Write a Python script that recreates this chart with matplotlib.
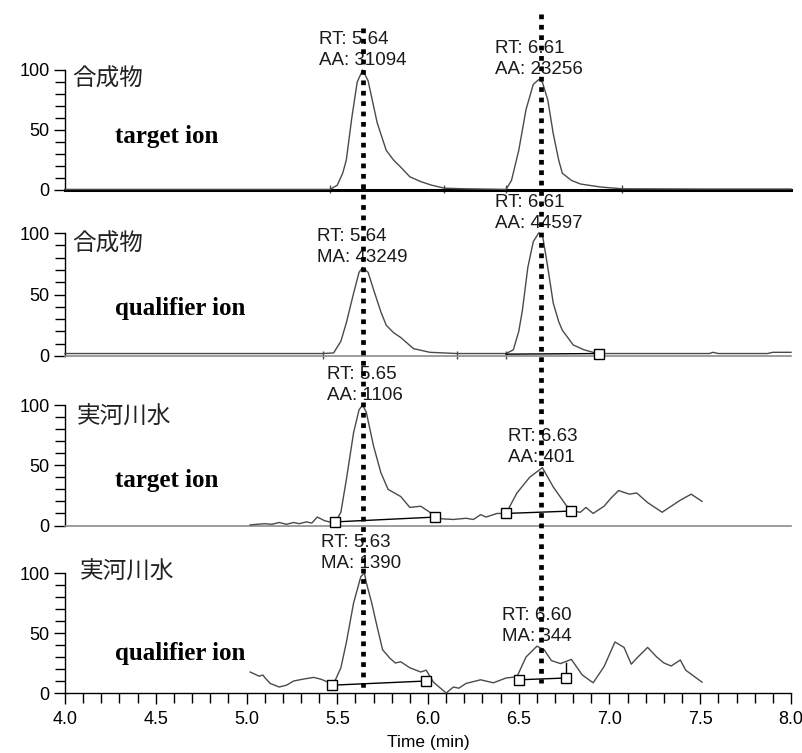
import matplotlib
matplotlib.use('Agg')
import matplotlib.pyplot as plt
from matplotlib.ticker import MultipleLocator, FormatStrFormatter

plt.rcParams['font.family'] = ['Liberation Sans', 'DejaVu Sans']

# ---- chromatogram traces (time in min, relative abundance %) ----
time_p1 = [4.0, 5.0, 5.46, 5.50, 5.53, 5.55, 5.58, 5.61, 5.64, 5.67, 5.70, 5.72, 5.77, 5.81,
           5.85, 5.90, 5.96, 6.02, 6.09, 6.20, 6.43, 6.46, 6.50, 6.54, 6.58, 6.61, 6.63,
           6.66, 6.69, 6.72, 6.74, 6.79, 6.84, 6.95, 7.07, 7.5, 8.0]
int_p1 = [0.5, 0.5, 0.5, 4, 14, 25, 60, 90, 100, 91, 70, 56, 33, 25,
          19, 11, 7, 4, 1.5, 1, 0.5, 8, 33, 67, 88, 92, 90,
          75, 47, 25, 14, 8, 5, 2.5, 1, 0.8, 0.8]

time_p2 = [4.0, 5.42, 5.48, 5.52, 5.55, 5.59, 5.62, 5.64, 5.67, 5.70, 5.74, 5.77, 5.81,
           5.85, 5.92, 6.01, 6.16, 6.43, 6.47, 6.50, 6.52, 6.55, 6.58, 6.61, 6.63, 6.66,
           6.69, 6.72, 6.74, 6.80, 6.86, 6.91, 6.94, 7.55, 7.57, 7.60, 7.87, 7.90, 8.0]
int_p2 = [2, 2, 2.5, 12, 27, 51, 68, 72, 68, 54, 36, 25, 19,
          15, 6, 3, 2, 2, 5, 20, 37, 72, 93, 100, 99, 72,
          43, 28, 21, 9, 5, 3, 2, 2, 3, 2, 2, 3, 3]

time_p3 = [5.02, 5.06, 5.10, 5.14, 5.18, 5.22, 5.26, 5.29, 5.33, 5.36, 5.39, 5.43, 5.47,
           5.49, 5.52, 5.55, 5.59, 5.62, 5.64, 5.66, 5.70, 5.74, 5.78, 5.85, 5.90, 5.96,
           6.01, 6.04, 6.08, 6.14, 6.21, 6.25, 6.29, 6.32, 6.38, 6.43, 6.49, 6.56, 6.63,
           6.69, 6.76, 6.79, 6.84, 6.87, 6.91, 6.97, 7.01, 7.05, 7.11, 7.15, 7.21, 7.29,
           7.33, 7.39, 7.45, 7.48, 7.51]
int_p3 = [0.5, 1, 1.5, 1, 2.5, 1, 2.5, 1.5, 3, 2, 7, 4, 2.5,
          3, 11, 38, 77, 96, 100, 94, 66, 44, 30, 24, 15, 16,
          11, 7, 5.5, 5, 6, 5, 9, 7, 10, 10, 27, 40, 48,
          32, 17, 12, 11, 15, 10, 16, 23, 29, 26, 27, 19, 11,
          15, 21, 26, 23, 20]

time_p4 = [5.02, 5.07, 5.09, 5.10, 5.13, 5.18, 5.22, 5.26, 5.31, 5.37, 5.41, 5.45, 5.47,
           5.49, 5.52, 5.55, 5.59, 5.63, 5.65, 5.66, 5.69, 5.72, 5.75, 5.79, 5.82, 5.85,
           5.90, 5.96, 5.99, 6.03, 6.10, 6.14, 6.17, 6.21, 6.29, 6.36, 6.43, 6.49, 6.54,
           6.60, 6.64, 6.68, 6.73, 6.79, 6.85, 6.91, 6.97, 7.03, 7.08, 7.12, 7.15, 7.21,
           7.26, 7.30, 7.34, 7.39, 7.42, 7.51]
int_p4 = [17.5, 14, 15, 13, 8, 5, 6.5, 10, 11.5, 13, 11.5, 9, 7.5,
          11, 21, 42, 75, 97, 100, 92, 75, 55, 36, 29, 25, 26,
          21, 17.5, 19, 9, 0, 5, 4, 8, 11, 8.5, 12.5, 13.5, 30,
          39, 36, 27, 24.5, 28, 15, 8.5, 22, 42.5, 38, 24, 29, 38,
          30, 25, 22.5, 27.5, 19, 9]

times = [time_p1, time_p2, time_p3, time_p4]
intensities = [int_p1, int_p2, int_p3, int_p4]

sample_names = ['合成物', '合成物', '実河川水', '実河川水']
ion_names = ['target ion', 'qualifier ion', 'target ion', 'qualifier ion']

# peak labels: (RT, apex height, area type, area)
peaks = [
    [(5.64, 100, 'AA', 31094), (6.61, 92, 'AA', 23256)],
    [(5.64, 72, 'MA', 43249), (6.61, 100, 'AA', 44597)],
    [(5.65, 100, 'AA', 1106), (6.63, 48, 'AA', 401)],
    [(5.63, 100, 'MA', 1390), (6.60, 39, 'MA', 344)],
]

# integration baselines: (times, heights, which ends carry a square)
int_baselines = [
    [],
    [((6.43, 6.94), (1.5, 2), [1])],
    [((5.49, 6.04), (3, 7), [0, 1]), ((6.43, 6.79), (10, 12), [0, 1])],
    [((5.47, 5.99), (6.5, 10), [0, 1]), ((6.50, 6.76), (11, 12.5), [0, 1])],
]
boundary_ticks = [[5.46, 6.09, 6.43, 7.07], [5.42, 6.16, 6.43], [], []]
drop_lines = [[], [], [], [(6.76, 12.5, 25)]]

marker_rts = [5.64, 6.62]

# ---- layout (pixels in the 803x753 picture) ----
W, H = 803, 753
x_left, x_right = 65, 791
panel_px = [(190, 70), (356, 233), (525.5, 405), (693, 573)]   # (0-line, 100-line)
name_pos = [(4.04, 92), (4.04, 91), (4.065, 90), (4.08, 101)]
ion_pos = [(4.275, 39), (4.275, 33), (4.275, 32), (4.275, 27.5)]
base_style = [('black', 2.2), ('#8c8c8c', 1.2), ('#8c8c8c', 1.2), ('black', 1.0)]

fig = plt.figure(figsize=(W / 100, H / 100), dpi=100)
trace_color = '#4a4a4a'

axes = []
for i, (b, t) in enumerate(panel_px):
    ax = fig.add_axes([x_left / W, (H - b) / H, (x_right - x_left) / W, (b - t) / H])
    ax.patch.set_alpha(0)
    ax.set_xlim(4.0, 8.0)
    ax.set_ylim(0, 100)
    for s in ['top', 'right']:
        ax.spines[s].set_visible(False)
    ax.spines['left'].set_linewidth(1.0)
    ax.spines['bottom'].set_color(base_style[i][0])
    ax.spines['bottom'].set_linewidth(base_style[i][1])
    ax.set_yticks([0, 50, 100])
    ax.yaxis.set_minor_locator(MultipleLocator(10))
    ax.tick_params(axis='y', which='major', direction='out', length=8, width=1, labelsize=13, pad=3)
    ax.tick_params(axis='y', which='minor', direction='out', length=7, width=1)

    ax.plot(times[i], intensities[i], color=trace_color, lw=1.0, clip_on=False, zorder=3)

    for (xs, ys, ends) in int_baselines[i]:
        ax.plot(xs, ys, color='black', lw=1.0, marker='s', ms=7, mfc='white', mec='black',
                mew=1.0, markevery=ends, clip_on=False, zorder=4)
    for bt in boundary_ticks[i]:
        ax.plot([bt], [1], marker='|', ms=6, color=trace_color, mew=1.0, clip_on=False)
    for (xd, y0, y1) in drop_lines[i]:
        ax.plot([xd, xd], [y0, y1], color='black', lw=1.0, clip_on=False)

    for rt, h, tag, val in peaks[i]:
        ax.annotate(f'RT: {rt:.2f}\n{tag}: {val}', xy=(rt, h), xytext=(0, 1),
                    textcoords='offset points', ha='center', va='bottom',
                    multialignment='left', fontsize=13.5, linespacing=1.3,
                    color='#1a1a1a', annotation_clip=False, zorder=5)

    ax.text(name_pos[i][0], name_pos[i][1], sample_names[i], fontsize=17, va='center', ha='left',
            family=['Noto Sans CJK JP', 'DejaVu Sans'], color='#222222')
    ax.text(ion_pos[i][0], ion_pos[i][1], ion_names[i], fontsize=18, va='baseline', ha='left',
            family='Liberation Serif', fontweight='bold', color='black')

    if i < 3:
        ax.tick_params(axis='x', which='both', bottom=False, labelbottom=False)
    else:
        ax.xaxis.set_major_locator(MultipleLocator(0.5))
        ax.xaxis.set_minor_locator(MultipleLocator(0.1))
        ax.xaxis.set_major_formatter(FormatStrFormatter('%.1f'))
        ax.tick_params(axis='x', which='major', direction='out', length=8, width=1,
                       labelsize=13, pad=5)
        ax.tick_params(axis='x', which='minor', direction='out', length=7, width=1)
        ax.set_xlabel('Time (min)', fontsize=12.5, labelpad=5)
    axes.append(ax)

# dotted retention-time markers running through all panels
ov = fig.add_axes([x_left / W, 0, (x_right - x_left) / W, 1])
ov.set_xlim(4.0, 8.0)
ov.set_ylim(H, 0)
ov.axis('off')
ov.patch.set_alpha(0)
ov.vlines(marker_rts[0], 28, 693, color='black', lw=3.4, linestyles=(0, (1, 1.2)))
ov.vlines(marker_rts[1], 14, 683, color='black', lw=3.4, linestyles=(0, (1, 1.2)))

fig.savefig('out.png', dpi=100)
